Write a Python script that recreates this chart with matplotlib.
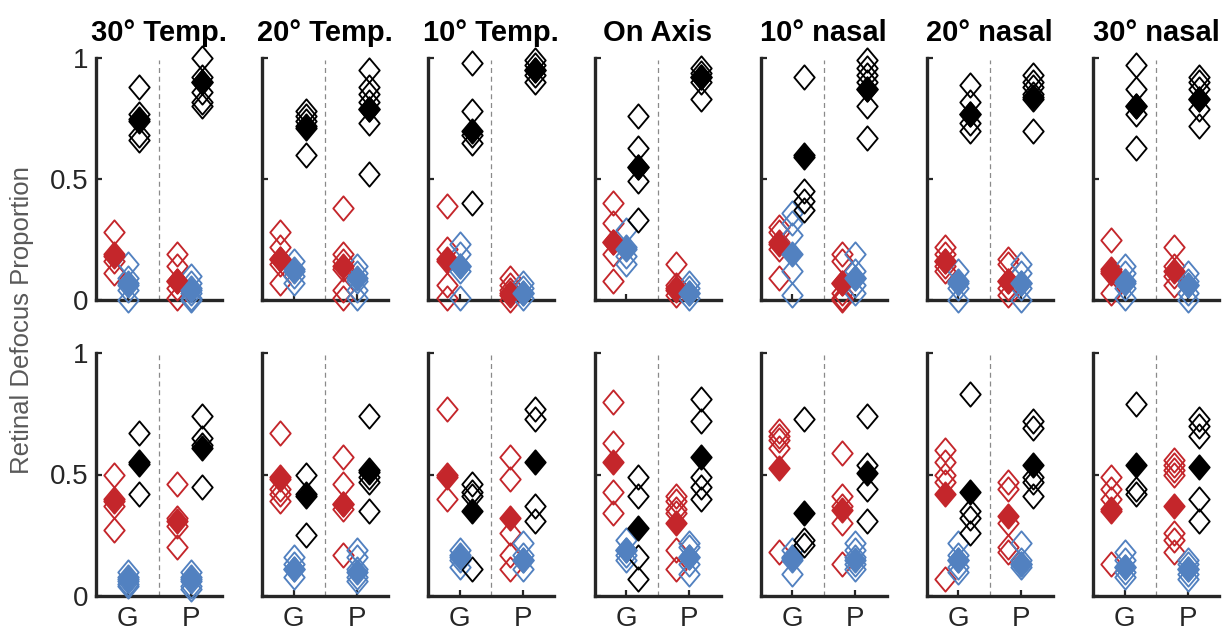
import matplotlib
matplotlib.use("Agg")
import matplotlib.pyplot as plt
from matplotlib.path import Path

# ---------------- data ----------------
panels = ["30° Temp.", "20° Temp.", "10° Temp.", "On Axis", "10° nasal", "20° nasal", "30° nasal"]
groups = ["G", "P"]
yticks = [0, 0.5, 1]
ytick_labels = ["0", "0.5", "1"]
ylabel = "Retinal Defocus Proportion"

# top row: individual values (open diamonds) and means (filled diamonds)
top_red_G = [[0.28, 0.19, 0.16, 0.11], [0.28, 0.22, 0.17, 0.15, 0.07], [0.39, 0.21, 0.16, 0.06, 0.01],
             [0.40, 0.32, 0.24, 0.19, 0.08], [0.30, 0.28, 0.24, 0.21, 0.09], [0.22, 0.19, 0.16, 0.14, 0.12],
             [0.25, 0.13, 0.11, 0.03]]
top_red_G_mean = [0.18, 0.17, 0.17, 0.24, 0.23, 0.16, 0.12]
top_red_P = [[0.19, 0.14, 0.08, 0.05, 0.01], [0.38, 0.19, 0.16, 0.13, 0.04, 0.01], [0.09, 0.06, 0.04, 0.02, 0.0],
             [0.15, 0.06, 0.04, 0.02], [0.19, 0.16, 0.07, 0.03, 0.01, 0.0], [0.17, 0.15, 0.08, 0.05, 0.02],
             [0.22, 0.14, 0.10, 0.06]]
top_red_P_mean = [0.08, 0.14, 0.03, 0.05, 0.07, 0.08, 0.12]
top_blue_G = [[0.15, 0.09, 0.06, 0.04, 0.0], [0.16, 0.13, 0.10, 0.07], [0.23, 0.19, 0.14, 0.12, 0.01],
              [0.29, 0.22, 0.18, 0.15], [0.36, 0.32, 0.27, 0.12, 0.02], [0.12, 0.08, 0.05, 0.0],
              [0.14, 0.11, 0.08, 0.05, 0.01]]
top_blue_G_mean = [0.07, 0.12, 0.14, 0.21, 0.19, 0.07, 0.07]
top_blue_P = [[0.10, 0.07, 0.05, 0.03, 0.01, 0.0], [0.14, 0.11, 0.08, 0.04, 0.01], [0.07, 0.05, 0.03, 0.01],
              [0.07, 0.05, 0.03, 0.01], [0.19, 0.12, 0.09, 0.06, 0.03], [0.15, 0.11, 0.07, 0.05, 0.0],
              [0.11, 0.08, 0.06, 0.03, 0.0]]
top_blue_P_mean = [0.04, 0.09, 0.03, 0.03, 0.09, 0.07, 0.06]
top_black_G = [[0.88, 0.77, 0.74, 0.68, 0.66], [0.78, 0.76, 0.74, 0.72, 0.60], [0.98, 0.78, 0.68, 0.65, 0.40],
               [0.76, 0.63, 0.55, 0.49, 0.33], [0.92, 0.60, 0.45, 0.41, 0.37], [0.89, 0.82, 0.77, 0.73, 0.70],
               [0.97, 0.87, 0.80, 0.77, 0.63]]
top_black_G_mean = [0.75, 0.71, 0.70, 0.55, 0.59, 0.77, 0.80]
top_black_P = [[1.0, 0.92, 0.90, 0.86, 0.82, 0.80], [0.95, 0.88, 0.85, 0.82, 0.79, 0.73, 0.52],
               [0.99, 0.97, 0.95, 0.93, 0.90], [0.96, 0.94, 0.92, 0.90, 0.83],
               [0.99, 0.96, 0.93, 0.90, 0.87, 0.80, 0.67], [0.93, 0.90, 0.88, 0.85, 0.83, 0.70],
               [0.92, 0.90, 0.87, 0.83, 0.79, 0.72]]
top_black_P_mean = [0.90, 0.79, 0.95, 0.92, 0.87, 0.84, 0.83]

# bottom row
bot_red_G = [[0.50, 0.40, 0.37, 0.27], [0.67, 0.49, 0.44, 0.42, 0.39], [0.77, 0.50, 0.40],
             [0.80, 0.63, 0.43, 0.34], [0.68, 0.66, 0.64, 0.61, 0.18], [0.60, 0.55, 0.50, 0.47, 0.07],
             [0.49, 0.44, 0.40, 0.36, 0.13]]
bot_red_G_mean = [0.39, 0.48, 0.49, 0.55, 0.525, 0.42, 0.35]
bot_red_P = [[0.46, 0.32, 0.29, 0.20], [0.57, 0.46, 0.38, 0.36, 0.17], [0.57, 0.48, 0.26, 0.17, 0.11],
             [0.41, 0.39, 0.36, 0.34, 0.19, 0.11], [0.59, 0.41, 0.37, 0.30, 0.13], [0.47, 0.44, 0.30, 0.20, 0.18],
             [0.56, 0.54, 0.52, 0.50, 0.26, 0.23, 0.18]]
bot_red_P_mean = [0.31, 0.38, 0.32, 0.30, 0.355, 0.33, 0.37]
bot_blue_G = [[0.10, 0.08, 0.06, 0.05, 0.04], [0.16, 0.13, 0.11, 0.08], [0.19, 0.17, 0.15, 0.12],
              [0.23, 0.19, 0.17, 0.15], [0.19, 0.16, 0.15, 0.09], [0.22, 0.17, 0.15, 0.12, 0.10],
              [0.18, 0.15, 0.12, 0.10, 0.08]]
bot_blue_G_mean = [0.07, 0.11, 0.16, 0.19, 0.155, 0.15, 0.12]
bot_blue_P = [[0.10, 0.08, 0.06, 0.04, 0.03], [0.19, 0.16, 0.11, 0.08, 0.06], [0.22, 0.17, 0.15, 0.11],
              [0.22, 0.20, 0.16, 0.13, 0.09], [0.22, 0.19, 0.16, 0.13, 0.11], [0.22, 0.15, 0.13, 0.12],
              [0.15, 0.13, 0.11, 0.09, 0.07]]
bot_blue_P_mean = [0.07, 0.10, 0.15, 0.16, 0.15, 0.13, 0.11]
bot_black_G = [[0.67, 0.55, 0.42], [0.50, 0.42, 0.25], [0.46, 0.43, 0.41, 0.11], [0.49, 0.41, 0.16, 0.07],
               [0.73, 0.23, 0.21], [0.83, 0.35, 0.32, 0.26], [0.79, 0.44, 0.42]]
bot_black_G_mean = [0.545, 0.41, 0.35, 0.28, 0.34, 0.43, 0.54]
bot_black_P = [[0.74, 0.65, 0.62, 0.45], [0.74, 0.52, 0.49, 0.47, 0.35], [0.77, 0.73, 0.37, 0.31],
               [0.81, 0.72, 0.49, 0.45, 0.40], [0.74, 0.54, 0.44, 0.31], [0.72, 0.69, 0.49, 0.47, 0.41],
               [0.73, 0.70, 0.66, 0.40, 0.31]]
bot_black_P_mean = [0.61, 0.51, 0.55, 0.57, 0.505, 0.54, 0.53]

# ---------------- style ----------------
RED = "#C4262B"
BLUE = "#5281C0"
BLACK = "#000000"
AX_COL = "#262626"
offsets = {"red": -0.21, "blue": 0.0, "black": 0.19}
colors = {"red": RED, "blue": BLUE, "black": BLACK}

diamond = Path([(0, 1), (0.84, 0), (0, -1), (-0.84, 0), (0, 1)],
               [Path.MOVETO, Path.LINETO, Path.LINETO, Path.LINETO, Path.CLOSEPOLY])
MS = 17.5
MEW = 1.35

plt.rcParams["font.family"] = ["Liberation Sans", "DejaVu Sans"]

fig = plt.figure(figsize=(12.26, 6.32), dpi=100)
W, H = 1226.0, 632.0
lefts_px = [96 + c * 166.17 for c in range(7)]
row_geo = [(300.0, 242.0), (596.0, 243.0)]  # (bottom px, height px)

rows = [
    {"red": (top_red_G, top_red_G_mean, top_red_P, top_red_P_mean),
     "blue": (top_blue_G, top_blue_G_mean, top_blue_P, top_blue_P_mean),
     "black": (top_black_G, top_black_G_mean, top_black_P, top_black_P_mean)},
    {"red": (bot_red_G, bot_red_G_mean, bot_red_P, bot_red_P_mean),
     "blue": (bot_blue_G, bot_blue_G_mean, bot_blue_P, bot_blue_P_mean),
     "black": (bot_black_G, bot_black_G_mean, bot_black_P, bot_black_P_mean)},
]

for r in range(2):
    bpx, hpx = row_geo[r]
    for c in range(7):
        ax = fig.add_axes([lefts_px[c] / W, 1 - bpx / H, 126 / W, hpx / H])
        ax.set_xlim(0.5, 2.5)
        ax.set_ylim(0, 1)
        ax.plot([1.5, 1.5], [0, 0.99], color="#8a8a8a", lw=0.9, dashes=(4, 3), zorder=1)
        for key in ["red", "blue", "black"]:
            gvals, gmean, pvals, pmean = rows[r][key]
            col = colors[key]
            for gi, (vals, mean) in enumerate([(gvals[c], gmean[c]), (pvals[c], pmean[c])]):
                x = gi + 1 + offsets[key]
                ax.plot([x] * len(vals), vals, linestyle="none", marker=diamond, ms=MS,
                        mfc="none", mec=col, mew=MEW, clip_on=False, zorder=3)
                ax.plot([x], [mean], linestyle="none", marker=diamond, ms=MS,
                        mfc=col, mec=col, mew=MEW, clip_on=False, zorder=4)
        for s in ["top", "right"]:
            ax.spines[s].set_visible(False)
        for s in ["left", "bottom"]:
            ax.spines[s].set_linewidth(2.4)
            ax.spines[s].set_color(AX_COL)
            ax.spines[s].set_zorder(2)
        ax.set_yticks(yticks)
        ax.set_xticks([1, 2])
        ax.tick_params(direction="in", length=4, width=1.6, color=AX_COL,
                       labelcolor=AX_COL, labelsize=20)
        ax.tick_params(axis="y", pad=5.5)
        ax.tick_params(axis="x", pad=7)
        if c == 0:
            ax.set_yticklabels(ytick_labels)
        else:
            ax.set_yticklabels([])
        if r == 1:
            ax.set_xticklabels(groups)
        else:
            ax.set_xticklabels([])
            ax.set_title(panels[c], fontsize=21, fontweight="bold", pad=12, color="black")

fig.text(22 / W, 1 - 320 / H, ylabel, rotation=90, ha="center", va="center",
         fontsize=18.5, color="#595959")

fig.savefig("out.png", dpi=100)
